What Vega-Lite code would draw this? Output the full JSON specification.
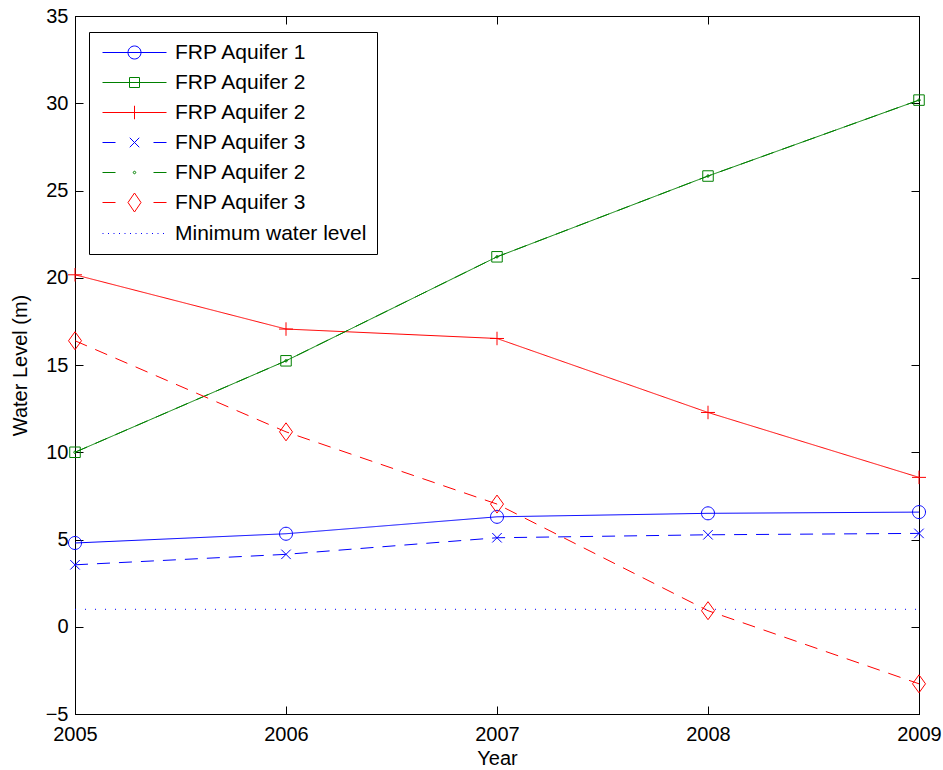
{
  "$schema": "https://vega.github.io/schema/vega-lite/v6.json",
  "width": 844,
  "height": 698,
  "autosize": {"type": "none"},
  "padding": {"left": 75, "top": 16, "right": 24, "bottom": 56},
  "background": "white",
  "config": {
    "font": "Liberation Sans",
    "view": {"stroke": "black", "strokeWidth": 1},
    "axis": {
      "domainColor": "black", "domainWidth": 1, "tickColor": "black", "tickWidth": 1,
      "labelColor": "black", "titleColor": "black", "labelFont": "Liberation Sans",
      "titleFont": "Liberation Sans", "labelFontSize": 20, "titleFontSize": 20,
      "titleFontWeight": "normal", "grid": false, "tickSize": -8,
      "labelFlush": false, "labelOverlap": false
    }
  },
  "data": {"values": [
    {"year": 2005, "level": 4.8, "series": "FRP Aquifer 1"},
    {"year": 2006, "level": 5.33, "series": "FRP Aquifer 1"},
    {"year": 2007, "level": 6.3, "series": "FRP Aquifer 1"},
    {"year": 2008, "level": 6.5, "series": "FRP Aquifer 1"},
    {"year": 2009, "level": 6.57, "series": "FRP Aquifer 1"},
    {"year": 2005, "level": 10.0, "series": "FRP Aquifer 2 (green)"},
    {"year": 2006, "level": 15.24, "series": "FRP Aquifer 2 (green)"},
    {"year": 2007, "level": 21.2, "series": "FRP Aquifer 2 (green)"},
    {"year": 2008, "level": 25.83, "series": "FRP Aquifer 2 (green)"},
    {"year": 2009, "level": 30.18, "series": "FRP Aquifer 2 (green)"},
    {"year": 2005, "level": 20.17, "series": "FRP Aquifer 2 (red)"},
    {"year": 2006, "level": 17.06, "series": "FRP Aquifer 2 (red)"},
    {"year": 2007, "level": 16.52, "series": "FRP Aquifer 2 (red)"},
    {"year": 2008, "level": 12.28, "series": "FRP Aquifer 2 (red)"},
    {"year": 2009, "level": 8.56, "series": "FRP Aquifer 2 (red)"},
    {"year": 2005, "level": 3.55, "series": "FNP Aquifer 3 (blue)"},
    {"year": 2006, "level": 4.15, "series": "FNP Aquifer 3 (blue)"},
    {"year": 2007, "level": 5.1, "series": "FNP Aquifer 3 (blue)"},
    {"year": 2008, "level": 5.27, "series": "FNP Aquifer 3 (blue)"},
    {"year": 2009, "level": 5.35, "series": "FNP Aquifer 3 (blue)"},
    {"year": 2005, "level": 10.0, "series": "FNP Aquifer 2"},
    {"year": 2006, "level": 15.24, "series": "FNP Aquifer 2"},
    {"year": 2007, "level": 21.2, "series": "FNP Aquifer 2"},
    {"year": 2008, "level": 25.83, "series": "FNP Aquifer 2"},
    {"year": 2009, "level": 30.18, "series": "FNP Aquifer 2"},
    {"year": 2005, "level": 16.39, "series": "FNP Aquifer 3 (red)"},
    {"year": 2006, "level": 11.17, "series": "FNP Aquifer 3 (red)"},
    {"year": 2007, "level": 7.03, "series": "FNP Aquifer 3 (red)"},
    {"year": 2008, "level": 0.92, "series": "FNP Aquifer 3 (red)"},
    {"year": 2009, "level": -3.27, "series": "FNP Aquifer 3 (red)"},
    {"year": 2005, "level": 1, "series": "Minimum water level"},
    {"year": 2006, "level": 1, "series": "Minimum water level"},
    {"year": 2007, "level": 1, "series": "Minimum water level"},
    {"year": 2008, "level": 1, "series": "Minimum water level"},
    {"year": 2009, "level": 1, "series": "Minimum water level"}
  ]},
  "resolve": {"scale": {"shape": "independent", "color": "independent"}, "axis": {"x": "independent", "y": "independent"}},
  "layer": [
    {
      "mark": {"type": "line", "strokeWidth": 1},
      "encoding": {
        "x": {"field": "year", "type": "quantitative", "scale": {"domain": [2005, 2009], "nice": false, "zero": false},
          "axis": {"values": [2005, 2006, 2007, 2008, 2009], "format": "d", "title": "Year", "labelPadding": 18, "titlePadding": 4}},
        "y": {"field": "level", "type": "quantitative", "scale": {"domain": [-5, 35], "nice": false, "zero": false},
          "axis": {"values": [-5, 0, 5, 10, 15, 20, 25, 30, 35], "title": "Water Level (m)", "labelPadding": 15, "titlePadding": 15}},
        "color": {"field": "series", "type": "nominal", "legend": null,
          "scale": {"domain": ["FRP Aquifer 1", "FRP Aquifer 2 (green)", "FRP Aquifer 2 (red)", "FNP Aquifer 3 (blue)", "FNP Aquifer 2", "FNP Aquifer 3 (red)", "Minimum water level"],
            "range": ["#0000ff", "#008000", "#ff0000", "#0000ff", "#008000", "#ff0000", "#0000ff"]}},
        "strokeDash": {"field": "series", "type": "nominal", "legend": null,
          "scale": {"domain": ["FRP Aquifer 1", "FRP Aquifer 2 (green)", "FRP Aquifer 2 (red)", "FNP Aquifer 3 (blue)", "FNP Aquifer 2", "FNP Aquifer 3 (red)", "Minimum water level"],
            "range": [[1, 0], [1, 0], [1, 0], [13, 9], [13, 9], [13, 9], [1, 9]]}}
      }
    },
    {
      "transform": [{"filter": "datum.series !== 'Minimum water level'"}],
      "mark": {"type": "point", "filled": false, "size": 100, "strokeWidth": 1, "opacity": 1},
      "encoding": {
        "x": {"field": "year", "type": "quantitative", "axis": null},
        "y": {"field": "level", "type": "quantitative", "axis": null},
        "color": {"field": "series", "type": "nominal", "legend": null,
          "scale": {"domain": ["FRP Aquifer 1", "FRP Aquifer 2 (green)", "FRP Aquifer 2 (red)", "FNP Aquifer 3 (blue)", "FNP Aquifer 2", "FNP Aquifer 3 (red)"],
            "range": ["#0000ff", "#008000", "#ff0000", "#0000ff", "#008000", "#ff0000"]}},
        "shape": {"field": "series", "type": "nominal", "legend": null,
          "scale": {"domain": ["FRP Aquifer 1", "FRP Aquifer 2 (green)", "FRP Aquifer 2 (red)", "FNP Aquifer 3 (blue)", "FNP Aquifer 2", "FNP Aquifer 3 (red)"],
            "range": [
              "M1.3,0A1.3,1.3,0,1,1,-1.3,0A1.3,1.3,0,1,1,1.3,0Z",
              "M-1.05,-1.05H1.05V1.05H-1.05Z",
              "M-1.4,0H1.4M0,-1.35V1.35",
              "M-0.95,-0.95L0.95,0.95M-0.95,0.95L0.95,-0.95",
              "M0.25,0A0.25,0.25,0,1,1,-0.25,0A0.25,0.25,0,1,1,0.25,0Z",
              "M0,-1.8L1.3,0L0,1.8L-1.3,0Z"
            ]}}
      }
    },
    {
      "transform": [{"filter": "datum.year < 0"}],
      "mark": {"type": "point", "filled": false, "size": 100, "strokeWidth": 1, "opacity": 1},
      "encoding": {
        "x": {"field": "year", "type": "quantitative",
          "axis": {"orient": "top", "values": [2005, 2006, 2007, 2008, 2009], "labels": false, "title": null}},
        "y": {"field": "level", "type": "quantitative",
          "axis": {"orient": "right", "values": [-5, 0, 5, 10, 15, 20, 25, 30, 35], "labels": false, "title": null}},
        "color": {"field": "series", "type": "nominal",
          "scale": {"domain": ["FRP Aquifer 1", "FRP Aquifer 2 (green)", "FRP Aquifer 2 (red)", "FNP Aquifer 3 (blue)", "FNP Aquifer 2", "FNP Aquifer 3 (red)", "Minimum water level"],
            "range": ["#0000ff", "#008000", "#ff0000", "#0000ff", "#008000", "#ff0000", "#0000ff"]},
          "legend": {"title": null, "orient": "none", "legendX": 14, "legendY": 16, "strokeColor": "black", "fillColor": "white",
            "padding": 10, "cornerRadius": 0, "symbolSize": 100, "symbolOffset": 25, "labelOffset": 30, "labelFontSize": 21,
            "labelFont": "Liberation Sans", "labelColor": "black", "rowPadding": 8, "symbolStrokeWidth": 1, "labelLimit": 400,
            "symbolLimit": 0, "labelExpr": "split(datum.label, ' (')[0]"}},
        "shape": {"field": "series", "type": "nominal",
          "scale": {"domain": ["FRP Aquifer 1", "FRP Aquifer 2 (green)", "FRP Aquifer 2 (red)", "FNP Aquifer 3 (blue)", "FNP Aquifer 2", "FNP Aquifer 3 (red)", "Minimum water level"],
            "range": [
              "M-6.4,0H6.4M1.3,0A1.3,1.3,0,1,1,-1.3,0A1.3,1.3,0,1,1,1.3,0Z",
              "M-6.4,0H6.4M-1.0,-1.0H1.0V1.0H-1.0Z",
              "M-6.4,0H6.4M0,-1.35V1.35",
              "M-6.4,0H-3.8M3.8,0H6.4M-0.95,-0.95L0.95,0.95M-0.95,0.95L0.95,-0.95",
              "M-6.4,0H-3.8M3.8,0H6.4M0.25,0A0.25,0.25,0,1,1,-0.25,0A0.25,0.25,0,1,1,0.25,0Z",
              "M-6.4,0H-3.8M3.8,0H6.4M0,-1.9L1.3,0L0,1.9L-1.3,0Z",
              "M-6.4,0H-6.2M-5.3,0H-5.1M-4.2,0H-4.0M-3.1,0H-2.9M-2.0,0H-1.8M-0.9,0H-0.7M0.2,0H0.4M1.3,0H1.5M2.4,0H2.6M3.5,0H3.7M4.6,0H4.8M5.7,0H5.9"
            ]},
          "legend": {"title": null, "orient": "none", "legendX": 14, "legendY": 16, "strokeColor": "black", "fillColor": "white",
            "padding": 10, "cornerRadius": 0, "symbolSize": 100, "symbolOffset": 25, "labelOffset": 30, "labelFontSize": 21,
            "labelFont": "Liberation Sans", "labelColor": "black", "rowPadding": 8, "symbolStrokeWidth": 1, "labelLimit": 400,
            "symbolLimit": 0, "labelExpr": "split(datum.label, ' (')[0]"}}
      }
    }
  ]
}
